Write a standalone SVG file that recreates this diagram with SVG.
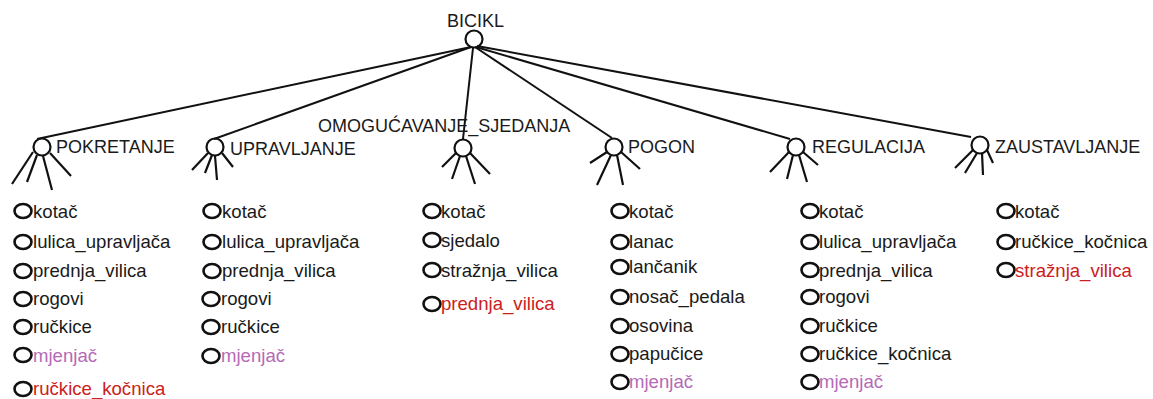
<svg xmlns="http://www.w3.org/2000/svg" width="1153" height="399" viewBox="0 0 1153 399">
<style>
text{font-family:"Liberation Sans",Arial,sans-serif;font-size:18px;fill:#1a1a1a}
.leaf text{font-size:18.6px}
.c{fill:none;stroke:#111;stroke-width:2.2}
.leg{stroke:#111;stroke-width:2.2;fill:none}
.lc{fill:none;stroke:#111;stroke-width:2.6}
.p{fill:#b56ab6}
.r{fill:#cc2020}
#connectors line{stroke:#111;stroke-width:2}
</style>
<g id="connectors">
<line x1="471" y1="47" x2="37" y2="139"/>
<line x1="471" y1="47" x2="214" y2="139"/>
<line x1="473" y1="48" x2="463" y2="139"/>
<line x1="475" y1="47" x2="612" y2="138"/>
<line x1="476" y1="47" x2="790" y2="139"/>
<line x1="477" y1="46" x2="971" y2="137"/>
</g>
<g id="bicikl">
<circle class="c" cx="474" cy="39" r="8.5"/>
<text x="447" y="27">BICIKL</text>
</g>
<g id="pokretanje">
<circle class="c" cx="42" cy="147" r="8.5"/>
<path class="leg" d="M33,152 L12,184 M37,155 L27,182 M43,156 L52,190 M50,153 L71,176"/>
<text x="56" y="153">POKRETANJE</text>
</g>
<g id="upravljanje">
<circle class="c" cx="215" cy="147" r="8.5"/>
<path class="leg" d="M208,153 L192,170 M212,155 L205,173 M215,156 L217,180 M222,153 L233,167"/>
<text x="230" y="155">UPRAVLJANJE</text>
</g>
<g id="omogucavanje">
<circle class="c" cx="463" cy="148" r="8.5"/>
<path class="leg" d="M456,153 L442,167 M460,156 L452,179 M466,156 L475,184 M470,153 L490,174"/>
<text x="318" y="132">OMOGUĆAVANJE_SJEDANJA</text>
</g>
<g id="pogon">
<circle class="c" cx="614" cy="147" r="8.5"/>
<path class="leg" d="M607,152 L590,163 M611,155 L597,185 M617,155 L623,185 M621,152 L640,169"/>
<text x="628" y="153">POGON</text>
</g>
<g id="regulacija">
<circle class="c" cx="796" cy="147" r="8.5"/>
<path class="leg" d="M789,152 L770,172 M793,155 L787,179 M799,155 L807,182 M803,152 L818,165"/>
<text x="812" y="153">REGULACIJA</text>
</g>
<g id="zaustavljanje">
<circle class="c" cx="980" cy="145" r="8.5"/>
<path class="leg" d="M973,150 L955,168 M977,153 L965,173 M982,153 L983,175 M987,150 L993,163"/>
<text x="995" y="153">ZAUSTAVLJANJE</text>
</g>
<g id="col-pokretanje" class="leaf">
<ellipse class="lc" cx="23" cy="211" rx="8.5" ry="7"/><text x="33" y="218">kotač</text>
<ellipse class="lc" cx="23" cy="242" rx="8.5" ry="7"/><text x="33" y="248">lulica_upravljača</text>
<ellipse class="lc" cx="23" cy="271" rx="8.5" ry="7"/><text x="33" y="277">prednja_vilica</text>
<ellipse class="lc" cx="23" cy="299" rx="8.5" ry="7"/><text x="33" y="305">rogovi</text>
<ellipse class="lc" cx="23" cy="327" rx="8.5" ry="7"/><text x="33" y="333">ručkice</text>
<ellipse class="lc" cx="23" cy="355" rx="8.5" ry="7"/><text class="p" x="33" y="362">mjenjač</text>
<ellipse class="lc" cx="23" cy="389" rx="8.5" ry="7"/><text class="r" x="33" y="395">ručkice_kočnica</text>
</g>
<g id="col-upravljanje" class="leaf">
<ellipse class="lc" cx="212" cy="211" rx="8.5" ry="7"/><text x="222" y="218">kotač</text>
<ellipse class="lc" cx="212" cy="242" rx="8.5" ry="7"/><text x="222" y="248">lulica_upravljača</text>
<ellipse class="lc" cx="212" cy="271" rx="8.5" ry="7"/><text x="222" y="277">prednja_vilica</text>
<ellipse class="lc" cx="211" cy="299" rx="8.5" ry="7"/><text x="221" y="305">rogovi</text>
<ellipse class="lc" cx="211" cy="327" rx="8.5" ry="7"/><text x="221" y="333">ručkice</text>
<ellipse class="lc" cx="211" cy="356" rx="8.5" ry="7"/><text class="p" x="221" y="362">mjenjač</text>
</g>
<g id="col-omogucavanje" class="leaf">
<ellipse class="lc" cx="432" cy="211" rx="8.5" ry="7"/><text x="441" y="218">kotač</text>
<ellipse class="lc" cx="432" cy="240" rx="8.5" ry="7"/><text x="441" y="247">sjedalo</text>
<ellipse class="lc" cx="432" cy="270" rx="8.5" ry="7"/><text x="441" y="277">stražnja_vilica</text>
<ellipse class="lc" cx="432" cy="304" rx="8.5" ry="7"/><text class="r" x="441" y="310">prednja_vilica</text>
</g>
<g id="col-pogon" class="leaf">
<ellipse class="lc" cx="620" cy="211" rx="8.5" ry="7"/><text x="629" y="218">kotač</text>
<ellipse class="lc" cx="620" cy="242" rx="8.5" ry="7"/><text x="629" y="248">lanac</text>
<ellipse class="lc" cx="620" cy="267" rx="8.5" ry="7"/><text x="629" y="273">lančanik</text>
<ellipse class="lc" cx="620" cy="297" rx="8.5" ry="7"/><text x="629" y="303">nosač_pedala</text>
<ellipse class="lc" cx="620" cy="326" rx="8.5" ry="7"/><text x="629" y="332">osovina</text>
<ellipse class="lc" cx="620" cy="354" rx="8.5" ry="7"/><text x="629" y="360">papučice</text>
<ellipse class="lc" cx="620" cy="382" rx="8.5" ry="7"/><text class="p" x="629" y="388">mjenjač</text>
</g>
<g id="col-regulacija" class="leaf">
<ellipse class="lc" cx="810" cy="211" rx="8.5" ry="7"/><text x="819" y="218">kotač</text>
<ellipse class="lc" cx="810" cy="242" rx="8.5" ry="7"/><text x="819" y="248">lulica_upravljača</text>
<ellipse class="lc" cx="810" cy="270" rx="8.5" ry="7"/><text x="819" y="277">prednja_vilica</text>
<ellipse class="lc" cx="810" cy="297" rx="8.5" ry="7"/><text x="819" y="303">rogovi</text>
<ellipse class="lc" cx="810" cy="326" rx="8.5" ry="7"/><text x="819" y="332">ručkice</text>
<ellipse class="lc" cx="810" cy="354" rx="8.5" ry="7"/><text x="819" y="360">ručkice_kočnica</text>
<ellipse class="lc" cx="810" cy="382" rx="8.5" ry="7"/><text class="p" x="819" y="388">mjenjač</text>
</g>
<g id="col-zaustavljanje" class="leaf">
<ellipse class="lc" cx="1006" cy="211" rx="8.5" ry="7"/><text x="1015" y="218">kotač</text>
<ellipse class="lc" cx="1006" cy="242" rx="8.5" ry="7"/><text x="1015" y="248">ručkice_kočnica</text>
<ellipse class="lc" cx="1006" cy="270" rx="8.5" ry="7"/><text class="r" x="1015" y="277">stražnja_vilica</text>
</g>
</svg>
